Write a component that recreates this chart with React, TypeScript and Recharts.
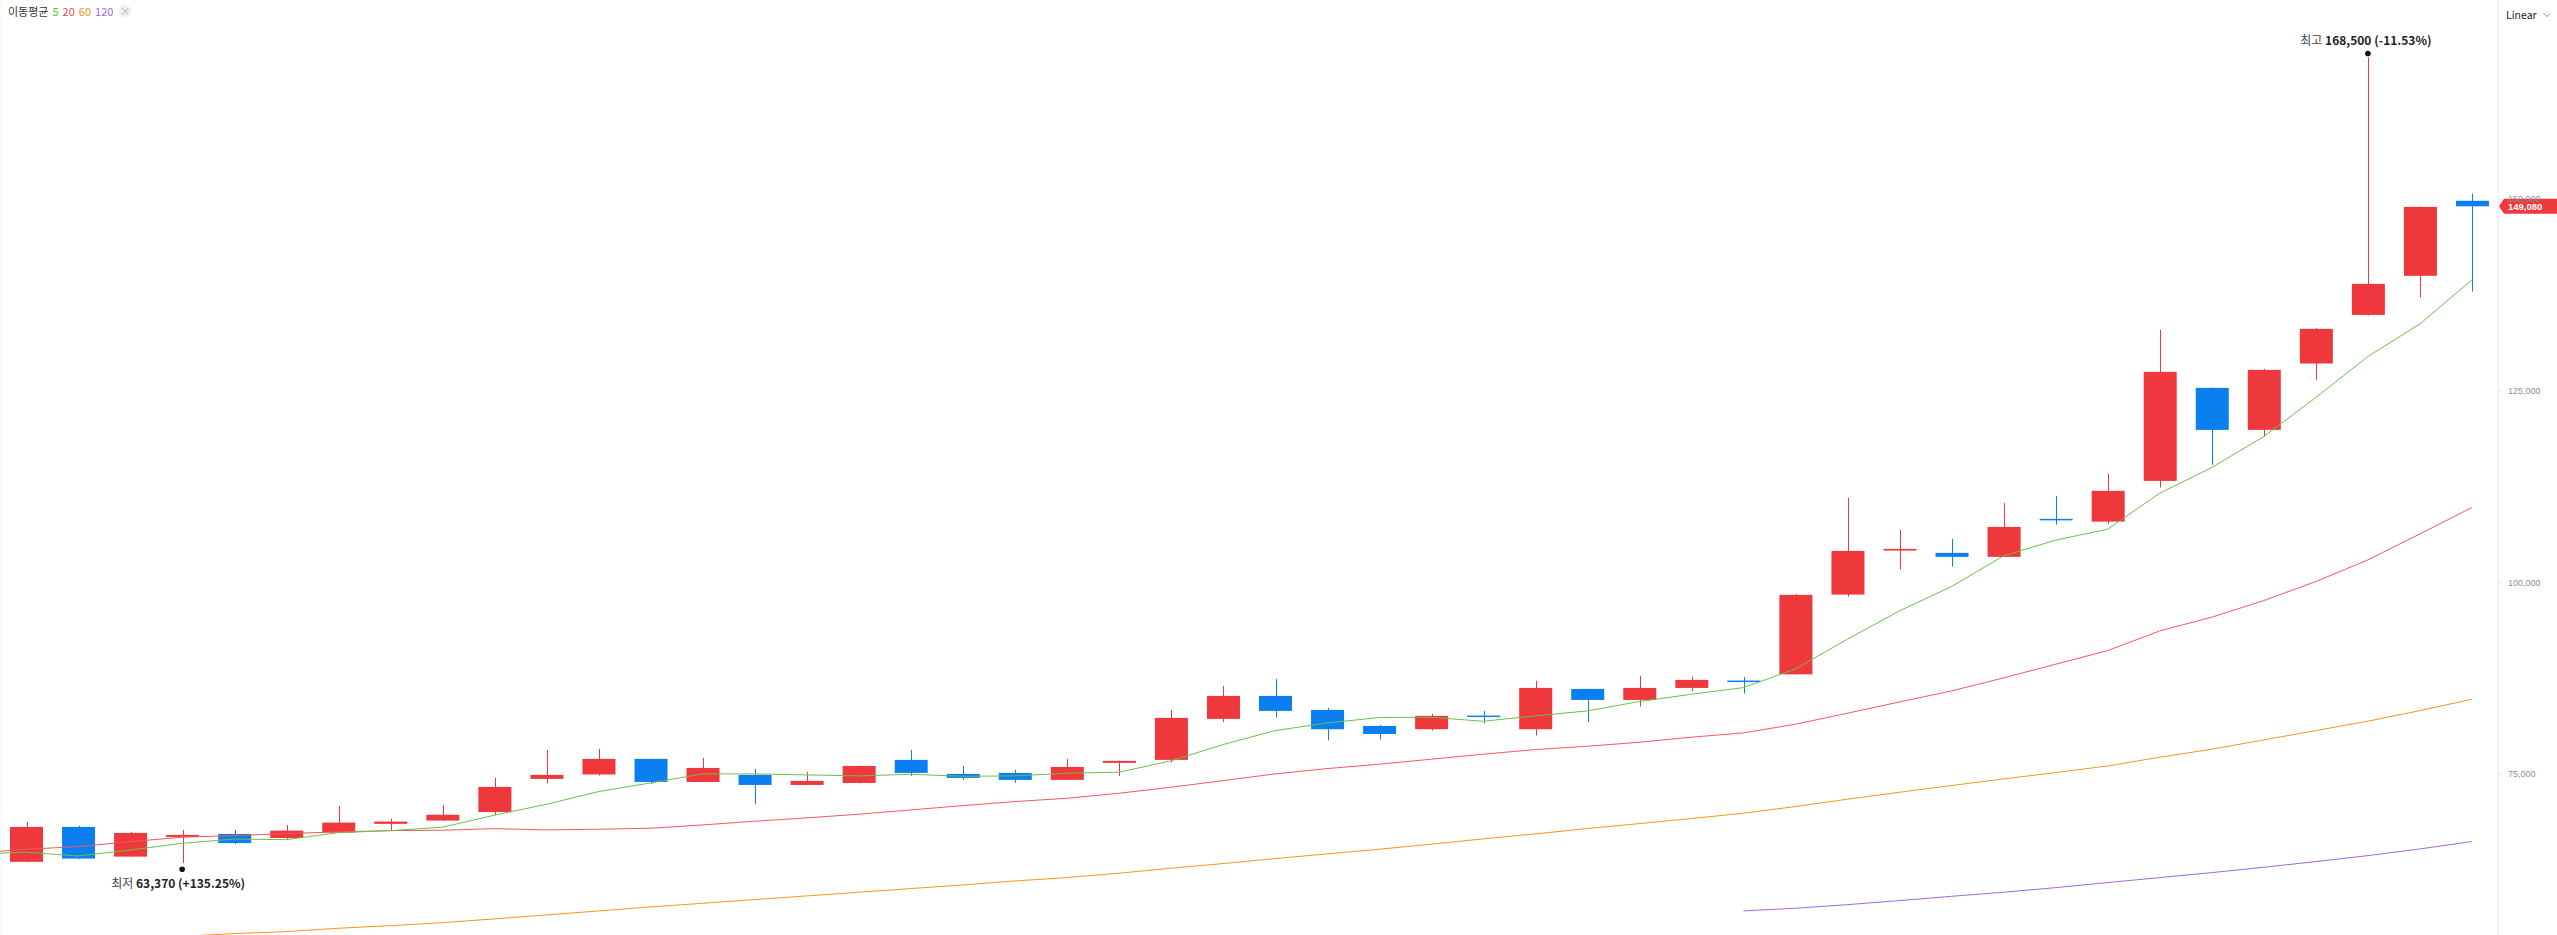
import { ComposedChart, Bar, Line, XAxis, YAxis, CartesianGrid, ReferenceDot, ReferenceLine } from 'recharts';

// daily candles, oldest first (48 sessions on screen)
const opens = [
  63550, 68100, 64230, 66800, 67190, 66660, 67370, 68500, 68930, 70040, 74370, 74950,
  76980, 73970, 74890, 73580, 73840, 76850, 75020, 75150, 74240, 76460, 76850, 82200,
  85200, 83370, 81280, 80850, 82630, 80850, 86110, 84670, 86240, 87200, 88010, 98420,
  104160, 103860, 103340, 108300, 107940, 113250, 125390, 119910, 128570, 134910, 140010, 149800,
];
const highs = [
  68750, 68230, 67450, 67710, 67710, 68360, 70840, 69180, 70970, 74500, 78150, 78280,
  77000, 77110, 75670, 75280, 76100, 78150, 76060, 75540, 76980, 76740, 83370, 86500,
  87420, 83630, 81410, 82850, 83240, 87160, 86130, 87810, 87680, 87680, 98510, 111040,
  106860, 105690, 110380, 111300, 114170, 132960, 125410, 127870, 133220, 168500, 149030, 150710,
];
const lows = [
  63500, 63900, 64200, 63370, 65870, 66500, 67300, 67620, 68900, 69630, 73760, 74790,
  73670, 73950, 71080, 73560, 73800, 74760, 74240, 73840, 74220, 74760, 76500, 81800,
  82370, 79400, 79500, 80670, 81590, 80020, 81800, 83800, 85850, 85500, 87990, 98160,
  101680, 102070, 103300, 107550, 107640, 112380, 115340, 119040, 126440, 134830, 137180, 137960,
];
const closes = [
  68100, 63970, 67320, 67060, 65990, 67620, 68670, 68800, 69690, 73320, 74890, 76980,
  73970, 75800, 73580, 74110, 76060, 75150, 74500, 74240, 75930, 76720, 82330, 85200,
  83240, 80850, 80230, 82590, 82460, 86240, 84670, 86240, 87290, 87100, 98380, 104120,
  104380, 103340, 107250, 108200, 111950, 127480, 119910, 127740, 133090, 138960, 149010, 149080,
];

// moving averages, first entry is the session just left of the screen
const ma5 = [
  64540, 64800, 64310, 65090, 65960, 66520, 66440, 67350, 67620, 68060, 69630, 71060, 72710,
  73840, 75020, 75020, 74890, 74760, 74970, 74710, 74760, 75110, 75240, 76720, 78850,
  80670, 81670, 82370, 82410, 81890, 82590, 83240, 84460, 85410, 86280, 88720, 92600,
  96290, 99470, 103470, 105520, 106950, 111650, 114990, 119040, 124130, 129480, 133740, 139490,
];
const ma20 = [
  64660, 65190, 65530, 66180, 66760, 66970, 67230, 67450, 67620, 67670, 67880, 67710, 67800,
  67930, 68360, 68840, 69280, 69760, 70320, 70880, 71410, 71840, 72490, 73280, 74140,
  75020, 75710, 76280, 76940, 77590, 78190, 78630, 79150, 79810, 80370, 81500, 82940,
  84410, 85850, 87550, 89330, 91110, 93680, 95470, 97640, 100120, 102950, 106340, 109780,
];
const ma60 = [
  52430, 52780, 53130, 53480, 53830, 54180, 54440, 54880, 55220, 55610, 56100, 56620, 57140,
  57660, 58140, 58620, 59100, 59580, 60060, 60530, 61050, 61490, 62060, 62710, 63320,
  63970, 64580, 65190, 65850, 66540, 67190, 67890, 68540, 69190, 69890, 70760, 71720,
  72630, 73500, 74370, 75190, 76060, 77200, 78240, 79460, 80670, 81900, 83280, 84760,
];
const ma120 = [
  null, null, null, null, null, null, null, null, null, null, null, null, null,
  null, null, null, null, null, null, null, null, null, null, null, null,
  null, null, null, null, null, null, null, null, null, 57140, 57490, 57960,
  58490, 59050, 59580, 60180, 60840, 61490, 62140, 62840, 63580, 64360, 65230, 66190,
];

// vertical grid positions (session index)
const gridTicks = [
  0, 1, 2, 3, 4, 5, 6, 7.5, 9, 10, 11, 12, 13, 14, 15, 16, 17, 18, 19.5, 21, 22, 23, 24, 25,
  26, 27, 28, 29, 30, 31.5, 33, 34, 35, 36, 37, 38, 39, 40, 41, 42, 43.5, 45, 46, 47,
];
const priceTicks = [75000, 100000, 125000, 150000];

const RED = '#ee383b';
const BLUE = '#0b7ef0';
const KR = '"Noto Sans CJK KR", "Noto Sans", sans-serif';

const rows = ma5.map((_, k) => ({
  i: k - 1,
  open: k ? opens[k - 1] : null,
  high: k ? highs[k - 1] : null,
  low: k ? lows[k - 1] : null,
  close: k ? closes[k - 1] : null,
  ma5: ma5[k],
  ma20: ma20[k],
  ma60: ma60[k],
  ma120: ma120[k],
}));

const fmt = (v: number) => v.toLocaleString('en-US');
const last = closes[closes.length - 1];
const maxHigh = Math.max(...highs);
const minLow = Math.min(...lows);
const hiIdx = highs.indexOf(maxHigh);
const loIdx = lows.indexOf(minLow);
const pct = (ref: number) => {
  const p = ((last - ref) / ref) * 100;
  return `${p >= 0 ? '+' : ''}${p.toFixed(2)}%`;
};

const Candle = (props: any) => {
  const { x, y, width, height, payload } = props;
  if (payload.open == null) return null;
  const { open, close, high, low } = payload;
  const color = close >= open ? RED : BLUE;
  const ratio = height / (high - low || 1);
  const yOf = (v: number) => y + (high - v) * ratio;
  const cx = Math.round(x + width / 2) + 0.5;
  const top = yOf(Math.max(open, close));
  const bh = Math.max(Math.abs(yOf(open) - yOf(close)), 1.5);
  return (
    <g>
      <line x1={cx} x2={cx} y1={y} y2={y + height} stroke={color} strokeWidth={1} />
      <rect x={x} y={top} width={width} height={bh} fill={color} />
    </g>
  );
};

const HighMark = (props: any) => {
  const { cx, cy } = props;
  return (
    <g>
      <circle cx={cx} cy={cy - 4} r={2.8} fill="#111" />
      <text x={cx - 2} y={cy - 12} textAnchor="middle" fontFamily={KR} fontSize={12} fill="#222">
        <tspan fill="#444">최고 </tspan>
        <tspan fontWeight={700}>{fmt(maxHigh)} ({pct(maxHigh)})</tspan>
      </text>
    </g>
  );
};

const LowMark = (props: any) => {
  const { cx, cy } = props;
  return (
    <g>
      <circle cx={cx} cy={cy + 6} r={2.8} fill="#111" />
      <text x={cx - 4} y={cy + 25} textAnchor="middle" fontFamily={KR} fontSize={12} fill="#222">
        <tspan fill="#444">최저 </tspan>
        <tspan fontWeight={700}>{fmt(minLow)} ({pct(minLow)})</tspan>
      </text>
    </g>
  );
};

const PriceTag = (props: any) => {
  const { x, y, width } = props.viewBox;
  const left = x + width;
  return (
    <g>
      <path
        d={`M${left + 1},${y} L${left + 6},${y - 7.5} L${left + 59},${y - 7.5} L${left + 59},${y + 7.5} L${left + 6},${y + 7.5} Z`}
        fill={RED}
      />
      <text x={left + 10} y={y + 3.5} fontFamily='"Liberation Sans", Arial, sans-serif' fontSize={9.5} fontWeight={700} fill="#fff">
        {fmt(last)}
      </text>
    </g>
  );
};

export default function App() {
  return (
    <div style={{ position: 'relative', width: 2557, height: 935, background: '#fff', overflow: 'hidden' }}>
      <style>{'body{margin:0}'}</style>
      <ComposedChart width={2557} height={935} data={rows} margin={{ top: 0, right: 0, bottom: 0, left: 0 }}>
        <CartesianGrid horizontal={false} stroke="#f0f1f3" />
        <XAxis
          dataKey="i"
          type="number"
          domain={[-0.5, 47.5]}
          allowDataOverflow
          ticks={gridTicks}
          height={0}
          tick={false}
          axisLine={false}
          tickLine={false}
        />
        <YAxis
          orientation="right"
          width={59}
          domain={[54000, 176000]}
          allowDataOverflow
          ticks={priceTicks}
          tickFormatter={fmt}
          axisLine={{ stroke: '#eceef1' }}
          tickLine={{ stroke: '#e3e5e8' }}
          tickSize={4}
          tickMargin={6}
          tick={{ fontSize: 9, fill: '#8a8f98', fontFamily: '"Liberation Sans", Arial, sans-serif', textAnchor: 'start' }}
        />
        <Line dataKey="ma120" stroke="#a366dc" strokeWidth={1} dot={false} activeDot={false} isAnimationActive={false} />
        <Line dataKey="ma60" stroke="#f7941d" strokeWidth={1} dot={false} activeDot={false} isAnimationActive={false} />
        <Line dataKey="ma20" stroke="#f05a5e" strokeWidth={1} dot={false} activeDot={false} isAnimationActive={false} />
        <Line dataKey="ma5" stroke="#6cc04a" strokeWidth={1} dot={false} activeDot={false} isAnimationActive={false} />
        <Bar
          dataKey={(d: any) => (d.open == null ? null : [d.low, d.high])}
          barSize={33}
          shape={Candle}
          isAnimationActive={false}
        />
        <ReferenceDot x={hiIdx} y={maxHigh} r={0} shape={HighMark} ifOverflow="visible" />
        <ReferenceDot x={loIdx} y={minLow} r={0} shape={LowMark} ifOverflow="visible" />
        <ReferenceLine y={last} stroke="none" ifOverflow="visible" label={PriceTag} />
      </ComposedChart>

      <div
        style={{
          position: 'absolute', left: 8, top: 3, display: 'flex', alignItems: 'center',
          fontFamily: KR, fontSize: 11, lineHeight: '16px', color: '#333',
        }}
      >
        <span>이동평균</span>
        <span style={{ color: '#5cbd3c', marginLeft: 4 }}>5</span>
        <span style={{ color: '#f04a52', marginLeft: 4 }}>20</span>
        <span style={{ color: '#f39021', marginLeft: 4 }}>60</span>
        <span style={{ color: '#a462e0', marginLeft: 4 }}>120</span>
        <span
          style={{
            marginLeft: 6, width: 12, height: 12, borderRadius: 6, background: '#eeeff1',
            color: '#b0b3b8', fontSize: 10, lineHeight: '12px', textAlign: 'center',
          }}
        >
          ×
        </span>
      </div>

      <div
        style={{
          position: 'absolute', left: 2506, top: 7, fontFamily: KR, fontSize: 10.5,
          lineHeight: '16px', color: '#222', display: 'flex', alignItems: 'center',
        }}
      >
        <span>Linear</span>
        <svg width={10} height={8} style={{ marginLeft: 5 }}>
          <path d="M1.5,2.5 L5,5.5 L8.5,2.5" fill="none" stroke="#9a9ea5" strokeWidth={1} />
        </svg>
      </div>
    </div>
  );
}
